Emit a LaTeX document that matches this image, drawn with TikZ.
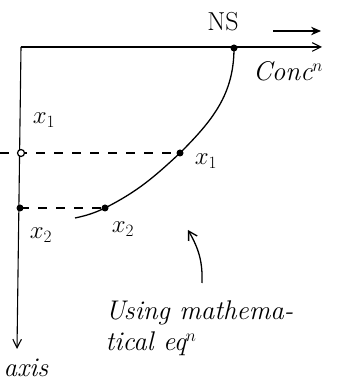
\documentclass[tikz,border=0pt]{standalone}
\usepackage{fontspec}
\usepackage{tikz}
\usetikzlibrary{arrows.meta,positioning}

\begin{document}
\begin{tikzpicture}[
    x=1pt, y=1pt,
    line width=1.3pt,
    axis/.style={-{Straight Barb[length=3mm,width=3mm]}, line width=1.1pt},
    arrow/.style={-{Stealth[length=3.5mm,width=3mm]}, line width=1.4pt},
    dot/.style={circle, fill, inner sep=0pt, minimum size=7pt},
    opendot/.style={circle, draw, fill=white, line width=1.2pt, inner sep=0pt, minimum size=7pt},
    guide/.style={dashed, dash pattern=on 9pt off 9pt, line width=1.1pt},
    lbl/.style={font=\fontsize{27}{31}\selectfont\itshape, inner sep=1pt}
]
\useasboundingbox (0,0) rectangle (353,381);

\coordinate (o) at (21,334);
\coordinate (xend) at (322,334);
\coordinate (yend) at (17,32);
\coordinate (ns) at (234,333);
\coordinate (p1) at (180,228);
\coordinate (p2) at (105,173);
\coordinate (cend) at (75,163);
\coordinate (a1) at (21,228);
\coordinate (a2) at (20,173);
\coordinate (left1) at (0,228);
\coordinate (ptr) at (202,98);
\coordinate (ptrtip) at (188,151);

\draw[axis] (o) -- (xend);
\draw[axis] (o) -- (yend);

\draw (ns) to[out=-90,in=45] (p1) to[out=223,in=27] (p2) to[out=205,in=12] (cend);

\draw[guide] (left1) -- (p1);
\draw[guide] (a2) -- (p2);

\node[dot] (nsdot) at (ns) {};
\node[dot] (p1dot) at (p1) {};
\node[dot] (p2dot) at (p2) {};
\node[opendot] (a1dot) at (a1) {};
\node[dot] (a2dot) at (a2) {};

\node[lbl, font=\fontsize{26}{30}\selectfont] (nslbl) at (223,359) {NS};
\coordinate (nsarrow) at (273,350);
\coordinate (nsarrowend) at (321,350);
\draw[arrow] (nsarrow) -- (nsarrowend);
\node[lbl] (conc) at (288,310) {Conc$^n$};

\node[lbl] (x1a) at (44,261) {$x_1$};
\node[lbl] (x1b) at (206,220) {$x_1$};
\node[lbl] (x2a) at (41,146) {$x_2$};
\node[lbl] (x2b) at (123,152) {$x_2$};

\draw[-{Straight Barb[length=3mm,width=3.5mm]}, line width=1.3pt] (ptr) to[out=88,in=-60] (ptrtip);

\node[lbl, anchor=north west, align=left] (note) at (104,82) {Using mathema-\\tical eq$^n$};
\node[lbl] (axislbl) at (26,13) {axis};
\end{tikzpicture}
\end{document}
